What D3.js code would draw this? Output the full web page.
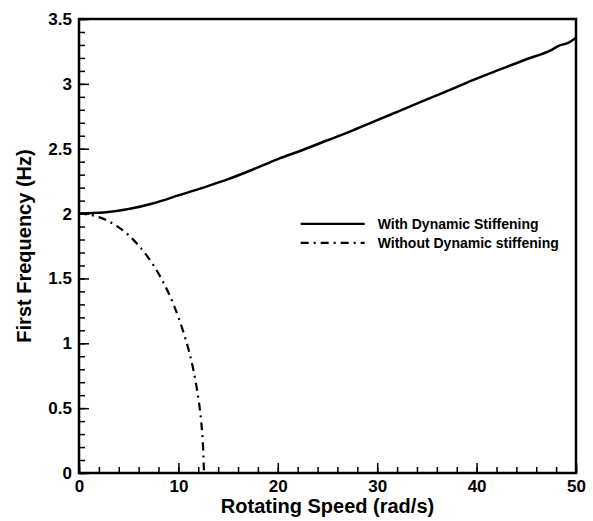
<!DOCTYPE html>
<html>
<head>
<meta charset="utf-8">
<script src="https://cdn.jsdelivr.net/npm/d3@7"></script>
<style>
  body { margin: 0; background: #fff; }
  text { font-family: "Liberation Sans", Arial, sans-serif; font-weight: bold; fill: #000; }
</style>
</head>
<body>
<div id="root"></div>
<script>
// rotating speed (rad/s) and first frequency (Hz)
var withSpeed = [0, 2.5, 5, 7.5, 10, 12.5, 15, 17.5, 20, 22.5, 25, 27.5, 30, 32.5, 35, 37.5, 40, 42.5, 45, 47.5, 48.3, 49.2, 50];
var withFreq  = [2.0, 2.008, 2.035, 2.08, 2.14, 2.2, 2.265, 2.34, 2.42, 2.49, 2.565, 2.64, 2.72, 2.8, 2.88, 2.96, 3.04, 3.115, 3.19, 3.26, 3.295, 3.315, 3.355];

var withoutSpeed = [0, 1, 2, 3, 4, 5, 6, 7, 8, 9, 10, 11, 11.5, 12, 12.3, 12.5, 12.57];
var withoutFreq  = [2.0, 1.994, 1.975, 1.942, 1.896, 1.835, 1.757, 1.661, 1.542, 1.396, 1.211, 0.967, 0.806, 0.593, 0.41, 0.205, 0];

var xTicks = [0, 10, 20, 30, 40, 50];
var xTickLabels = ["0", "10", "20", "30", "40", "50"];
var yTicks = [0, 0.5, 1, 1.5, 2, 2.5, 3, 3.5];
var yTickLabels = ["0", "0.5", "1", "1.5", "2", "2.5", "3", "3.5"];

var legendNames = ["With Dynamic Stiffening", "Without Dynamic stiffening"];

var margin = {top: 19, right: 17, bottom: 48, left: 79},
    width = 593 - margin.left - margin.right,
    height = 521 - margin.top - margin.bottom;

var x = d3.scaleLinear().domain([0, 50]).range([0, width]);
var y = d3.scaleLinear().domain([0, 3.5]).range([height, 0]);

var svg = d3.select("#root").append("svg")
    .attr("width", 593)
    .attr("height", 521)
  .append("g")
    .attr("transform", "translate(" + margin.left + "," + margin.top + ")");

// minor ticks
svg.append("g")
    .attr("transform", "translate(0," + height + ")")
    .call(d3.axisBottom(x).tickValues(d3.range(0, 50.01, 2)).tickSize(-6).tickFormat(""))
    .call(function(g) { g.select(".domain").remove(); });
svg.append("g")
    .call(d3.axisLeft(y).tickValues(d3.range(0, 35.1, 1).map(function(d) { return d / 10; })).tickSize(-6).tickFormat(""))
    .call(function(g) { g.select(".domain").remove(); });

// major ticks + labels
var xAxis = svg.append("g")
    .attr("transform", "translate(0," + height + ")")
    .call(d3.axisBottom(x).tickValues(xTicks).tickSize(-10).tickPadding(7)
      .tickFormat(function(d, i) { return xTickLabels[i]; }));
var yAxis = svg.append("g")
    .call(d3.axisLeft(y).tickValues(yTicks).tickSize(-10).tickPadding(7)
      .tickFormat(function(d, i) { return yTickLabels[i]; }));

[xAxis, yAxis].forEach(function(g) {
  g.select(".domain").remove();
  g.selectAll("text").attr("font-size", 17).attr("font-family", null).attr("fill", "#000");
});
svg.selectAll(".tick line").attr("stroke", "#000").attr("stroke-width", 1.5);

// frame
svg.append("rect")
    .attr("width", width)
    .attr("height", height)
    .attr("fill", "none")
    .attr("stroke", "#000")
    .attr("stroke-width", 2.5);

var line = d3.line()
    .x(function(d) { return x(d[0]); })
    .y(function(d) { return y(d[1]); })
    .curve(d3.curveMonotoneX);

svg.append("path")
    .datum(d3.zip(withSpeed, withFreq))
    .attr("fill", "none")
    .attr("stroke", "#000")
    .attr("stroke-width", 2.5)
    .attr("d", line);

svg.append("path")
    .datum(d3.zip(withoutSpeed, withoutFreq))
    .attr("fill", "none")
    .attr("stroke", "#000")
    .attr("stroke-width", 2.2)
    .attr("stroke-dasharray", "8,5,2,5")
    .attr("d", d3.line()
      .x(function(d) { return x(d[0]); })
      .y(function(d) { return y(d[1]); })
      .curve(d3.curveBasis));

// legend
var legend = svg.append("g").attr("transform", "translate(" + (x(22.3)) + "," + (y(1.92)) + ")");
var dashes = [null, "8,5,2,5"];
legendNames.forEach(function(name, i) {
  legend.append("line")
      .attr("x1", 0).attr("x2", 64)
      .attr("y1", i * 19).attr("y2", i * 19)
      .attr("stroke", "#000")
      .attr("stroke-width", 2.2)
      .attr("stroke-dasharray", dashes[i]);
  legend.append("text")
      .attr("x", 77)
      .attr("y", i * 19 + 5)
      .attr("font-size", 14)
      .text(name);
});

// axis titles
svg.append("text")
    .attr("x", width / 2)
    .attr("y", height + 40)
    .attr("text-anchor", "middle")
    .attr("font-size", 20)
    .text("Rotating Speed (rad/s)");

svg.append("text")
    .attr("transform", "rotate(-90)")
    .attr("x", -height / 2)
    .attr("y", -48)
    .attr("text-anchor", "middle")
    .attr("font-size", 20)
    .text("First Frequency (Hz)");
</script>
</body>
</html>
